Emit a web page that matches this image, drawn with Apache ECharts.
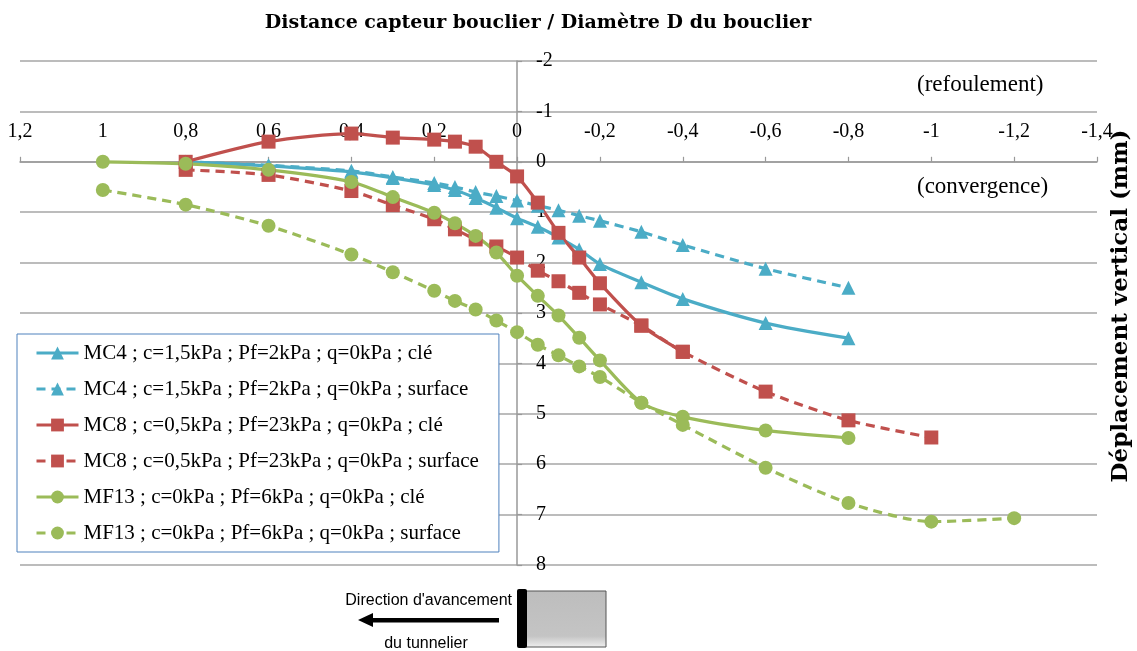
<!DOCTYPE html>
<html>
<head>
<meta charset="utf-8">
<script src="https://cdn.jsdelivr.net/npm/echarts@6/dist/echarts.min.js"></script>
<style>html,body{margin:0;padding:0;background:#fff;}#c{width:1137px;height:651px;}</style>
</head>
<body>
<div id="c"></div>
<script>
// ---- data ----
const seriesNames = [
  'MC4 ; c=1,5kPa ; Pf=2kPa ; q=0kPa ; clé',
  'MC4 ; c=1,5kPa ; Pf=2kPa ; q=0kPa ; surface',
  'MC8 ; c=0,5kPa ; Pf=23kPa ; q=0kPa ; clé',
  'MC8 ; c=0,5kPa ; Pf=23kPa ; q=0kPa ; surface',
  'MF13 ; c=0kPa ; Pf=6kPa ; q=0kPa ; clé',
  'MF13 ; c=0kPa ; Pf=6kPa ; q=0kPa ; surface'
];
const mc4X      = [0.8, 0.6, 0.4, 0.3, 0.2, 0.15, 0.1, 0.05, 0, -0.05, -0.1, -0.15, -0.2, -0.3, -0.4, -0.6, -0.8];
const mc4CleY   = [0, 0.08, 0.2, 0.32, 0.46, 0.56, 0.72, 0.91, 1.12, 1.29, 1.5, 1.74, 2.03, 2.39, 2.72, 3.2, 3.5];
const mc4SurfY  = [0, 0.07, 0.18, 0.3, 0.42, 0.5, 0.6, 0.68, 0.77, 0.87, 0.96, 1.07, 1.17, 1.39, 1.65, 2.12, 2.5];
const mc8CleX   = [0.8, 0.6, 0.4, 0.3, 0.2, 0.15, 0.1, 0.05, 0, -0.05, -0.1, -0.15, -0.2, -0.3, -0.4];
const mc8CleY   = [0, -0.4, -0.56, -0.48, -0.44, -0.4, -0.3, 0.0, 0.29, 0.81, 1.41, 1.9, 2.41, 3.25, 3.77];
const mc8SurfX  = [0.8, 0.6, 0.4, 0.3, 0.2, 0.15, 0.1, 0.05, 0, -0.05, -0.1, -0.15, -0.2, -0.3, -0.4, -0.6, -0.8, -1];
const mc8SurfY  = [0.16, 0.26, 0.58, 0.86, 1.14, 1.34, 1.54, 1.68, 1.9, 2.16, 2.37, 2.6, 2.83, 3.25, 3.77, 4.56, 5.13, 5.47];
const mf13CleX  = [1, 0.8, 0.6, 0.4, 0.3, 0.2, 0.15, 0.1, 0.05, 0, -0.05, -0.1, -0.15, -0.2, -0.3, -0.4, -0.6, -0.8];
const mf13CleY  = [0, 0.04, 0.16, 0.4, 0.7, 1.01, 1.22, 1.47, 1.8, 2.26, 2.66, 3.05, 3.49, 3.94, 4.78, 5.06, 5.33, 5.48];
const mf13SurfX = [1, 0.8, 0.6, 0.4, 0.3, 0.2, 0.15, 0.1, 0.05, 0, -0.05, -0.1, -0.15, -0.2, -0.3, -0.4, -0.6, -0.8, -1, -1.2];
const mf13SurfY = [0.56, 0.85, 1.27, 1.84, 2.19, 2.56, 2.76, 2.93, 3.15, 3.38, 3.63, 3.84, 4.06, 4.27, 4.78, 5.22, 6.07, 6.77, 7.14, 7.07];
const titleText = 'Distance capteur bouclier / Diamètre D du bouclier';
const yAxisTitle = 'Déplacement vertical (mm)';
const noteTop = '(refoulement)';
const noteBottom = '(convergence)';
const arrowText1 = "Direction d'avancement";
const arrowText2 = 'du tunnelier';

// ---- chart ----
const pair = (xs, ys) => xs.map((x, i) => [x, ys[i]]);
const BLUE = '#4bacc6', RED = '#c0504d', GREEN = '#9bbb59';
const SERIF = '"Liberation Serif", serif';
const WSERIF = '"DejaVu Serif", serif';
const DASH = [9, 6];

const GRID = { left: 20, right: 40, top: 61, bottom: 86 };
const W = 1137, H = 651;
const XMIN = -1.4, XMAX = 1.2, YMIN = -2, YMAX = 8;
const gridW = W - GRID.left - GRID.right, gridH = H - GRID.top - GRID.bottom;
// offsets to move the axes onto the zero lines (layout only)
const xAxisOffset = -gridH * (0 - YMIN) / (YMAX - YMIN);
const yAxisOffset = -gridW * (0 - XMIN) / (XMAX - XMIN);

function mk(name, data, color, symbol, size, dashed) {
  return {
    name, type: 'line', data, smooth: 0.25, symbol, symbolSize: size,
    showAllSymbol: true,
    itemStyle: { color },
    lineStyle: { color, width: 3.2, type: dashed ? DASH : 'solid' },
    emphasis: { disabled: true },
    animation: false
  };
}

const chart = echarts.init(document.getElementById('c'), null, { renderer: 'canvas' });
chart.setOption({
  animation: false,
  backgroundColor: '#fff',
  textStyle: { fontFamily: SERIF },
  title: {
    text: titleText, left: 533, top: 9, textAlign: 'center',
    textStyle: { fontFamily: WSERIF, fontWeight: 'bold', fontSize: 19, color: '#000' }
  },
  grid: Object.assign({ containLabel: false }, GRID),
  xAxis: {
    type: 'value', min: XMIN, max: XMAX, interval: 0.2, inverse: true, position: 'top',
    offset: xAxisOffset,
    axisLine: { onZero: false, lineStyle: { color: '#999', width: 1.5 } },
    axisTick: { show: true, length: 5, lineStyle: { color: '#999', width: 1.2 } },
    axisLabel: {
      margin: 20, fontSize: 20, color: '#000', fontFamily: SERIF,
      formatter: v => String(Math.round(v * 10) / 10).replace('.', ',')
    },
    splitLine: { show: false }
  },
  yAxis: {
    type: 'value', min: YMIN, max: YMAX, interval: 1, inverse: true, position: 'right',
    offset: yAxisOffset,
    axisLine: { onZero: false, lineStyle: { color: '#999', width: 1.5 } },
    axisTick: { show: true, length: 5, lineStyle: { color: '#999', width: 1.2 } },
    axisLabel: { margin: 19, fontSize: 20, color: '#000', fontFamily: SERIF },
    splitLine: { show: true, lineStyle: { color: '#a6a6a6', width: 1.5 } }
  },
  legend: {
    orient: 'vertical', left: 17, top: 334,
    padding: [8, 20, 8, 18],
    itemWidth: 42, itemHeight: 16, itemGap: 14,
    backgroundColor: '#fff', borderColor: '#4f81bd', borderWidth: 1,
    lineStyle: { width: 3 },
    textStyle: { fontFamily: SERIF, fontSize: 21, color: '#000', lineHeight: 22 },
    data: seriesNames
  },
  series: [
    mk(seriesNames[0], pair(mc4X, mc4CleY), BLUE, 'triangle', 14, false),
    mk(seriesNames[1], pair(mc4X, mc4SurfY), BLUE, 'triangle', 14, true),
    mk(seriesNames[2], pair(mc8CleX, mc8CleY), RED, 'rect', 14, false),
    mk(seriesNames[3], pair(mc8SurfX, mc8SurfY), RED, 'rect', 14, true),
    mk(seriesNames[4], pair(mf13CleX, mf13CleY), GREEN, 'circle', 14, false),
    mk(seriesNames[5], pair(mf13SurfX, mf13SurfY), GREEN, 'circle', 14, true)
  ],
  graphic: [
    { type: 'text', left: 917, top: 73, style: { text: noteTop, font: '23px ' + SERIF, fill: '#000' } },
    { type: 'text', left: 917, top: 175, style: { text: noteBottom, font: '23px ' + SERIF, fill: '#000' } },
    { type: 'text', x: 1121, y: 306, rotation: Math.PI / 2,
      style: { text: yAxisTitle, font: 'bold 23px ' + WSERIF, fill: '#000', align: 'center', verticalAlign: 'middle' } },
    { type: 'text', x: 512, y: 601, style: { text: arrowText1, font: '16px "Liberation Sans", sans-serif', fill: '#000', align: 'right', verticalAlign: 'middle' } },
    { type: 'text', x: 426, y: 644, style: { text: arrowText2, font: '16px "Liberation Sans", sans-serif', fill: '#000', align: 'center', verticalAlign: 'middle' } },
    { type: 'rect', shape: { x: 371, y: 618, width: 128, height: 4.5 }, style: { fill: '#000' } },
    { type: 'polygon', shape: { points: [[358, 620], [373, 613], [373, 627]] }, style: { fill: '#000' } },
    { type: 'rect', shape: { x: 526, y: 591, width: 80, height: 56 },
      style: { fill: new echarts.graphic.LinearGradient(0, 0, 0, 1, [
        { offset: 0, color: '#bdbdbd' }, { offset: 0.8, color: '#c4c4c4' }, { offset: 1, color: '#f0f0f0' }]),
        stroke: '#555', lineWidth: 1 } },
    { type: 'rect', shape: { x: 517, y: 589, width: 10, height: 59, r: 2 }, style: { fill: '#000' } }
  ]
});
</script>
</body>
</html>
